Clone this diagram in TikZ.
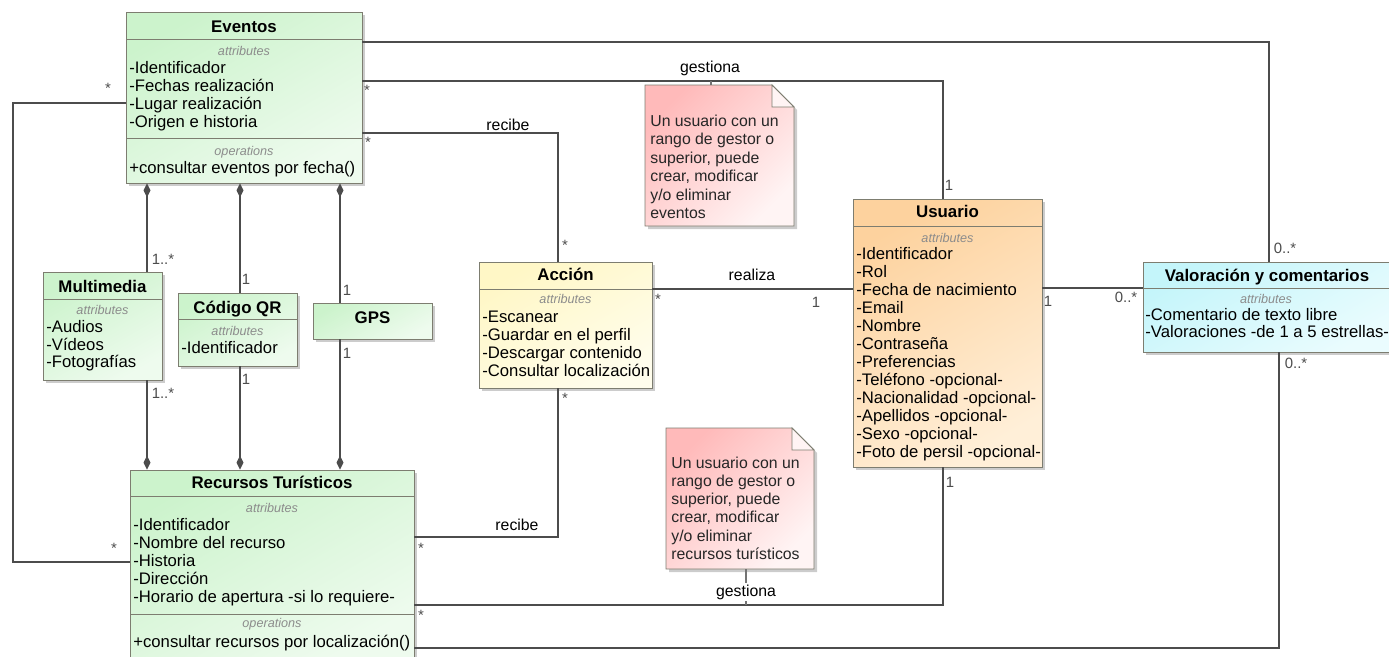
\documentclass[tikz,border=0pt]{standalone}
\usepackage{fontspec}
\setmainfont{Liberation Sans}
\usetikzlibrary{arrows.meta,shadows,fit}
\definecolor{clsgreen}{RGB}{204,243,204}
\definecolor{clsgreenlight}{RGB}{238,251,238}
\definecolor{clsorange}{RGB}{253,210,158}
\definecolor{clsorangelight}{RGB}{255,239,216}
\definecolor{clsyellow}{RGB}{255,247,198}
\definecolor{clsyellowlight}{RGB}{255,253,236}
\definecolor{clscyan}{RGB}{196,245,250}
\definecolor{clscyanlight}{RGB}{234,252,254}
\definecolor{notepink}{RGB}{255,186,186}
\definecolor{notelight}{RGB}{255,244,244}
\definecolor{boxline}{RGB}{125,125,112}
\tikzset{
  umlbox/.style={draw=boxline, line width=0.5pt, inner sep=0pt,
    drop shadow={shadow xshift=0.06cm, shadow yshift=-0.06cm, fill=black!40, opacity=0.5}},
  greenbox/.style={top color=clsgreen, bottom color=clsgreenlight, shading angle=30},
  orangebox/.style={top color=clsorange, bottom color=clsorangelight, shading angle=30},
  yellowbox/.style={top color=clsyellow, bottom color=clsyellowlight, shading angle=30},
  cyanbox/.style={top color=clscyan, bottom color=clscyanlight, shading angle=30},
  notebox/.style={draw=boxline, line width=0.5pt, top color=notepink, bottom color=notelight, shading angle=45,
    drop shadow={shadow xshift=0.06cm, shadow yshift=-0.06cm, fill=black!40, opacity=0.5}},
  umlsep/.style={draw=boxline, line width=0.5pt},
  umltitle/.style={anchor=base, inner sep=0pt, font=\fontsize{9.6}{11}\selectfont\bfseries},
  umlstereo/.style={anchor=base, inner sep=0pt, text=black!45, font=\fontsize{7.2}{8}\selectfont\itshape},
  umlattr/.style={anchor=base west, inner sep=0pt, font=\fontsize{9.5}{11}\selectfont},
  notetext/.style={anchor=base west, inner sep=0pt, text=black!85, font=\fontsize{9}{10}\selectfont},
  mult/.style={inner sep=0pt, text=black!70, font=\fontsize{8.5}{10}\selectfont},
  assoclabel/.style={inner sep=1pt, font=\fontsize{9}{10}\selectfont},
  assoc/.style={draw=black!70, line width=0.6pt},
  compos/.style={assoc, {Diamond[length=2.8mm,width=1.4mm]}-}
}
\begin{document}
\begin{tikzpicture}[x=0.02cm,y=-0.02cm]
\useasboundingbox (0,0) rectangle (1389,656);
% Eventos
\node[umlbox, greenbox, fit={(126,12) (362,183)}] (eventos) {};
\draw[umlsep] (126,39) -- (362,39);
\draw[umlsep] (126,138) -- (362,138);
\node[umltitle] (eventos-t) at (244,32) {Eventos};
\node[umlstereo] (eventos-s) at (244,55) {attributes};
\foreach \t [count=\i] in {-Identificador,-Fechas realización,-Lugar realización,-Origen e historia}
  \node[umlattr] (eventos-a\i) at (129,{73+18*(\i-1)}) {\t};
\node[umlstereo] (eventos-o) at (244,155) {operations};
\node[umlattr] (eventos-op) at (129,173) {+consultar eventos por fecha()};
%
% Multimedia
\node[umlbox, greenbox, fit={(43,272) (162,380)}] (multimedia) {};
\draw[umlsep] (43,299) -- (162,299);
\node[umltitle] (multimedia-t) at (102.5,292) {Multimedia};
\node[umlstereo] (multimedia-s) at (102.5,314) {attributes};
\foreach \t [count=\i] in {-Audios,-Vídeos,-Fotografías}
  \node[umlattr] (multimedia-a\i) at (46,{332.5+17.5*(\i-1)}) {\t};
%
% Codigo QR
\node[umlbox, greenbox, fit={(178,293) (297,366)}] (codigoqr) {};
\draw[umlsep] (178,319) -- (297,319);
\node[umltitle] (codigoqr-t) at (237.5,313) {Código QR};
\node[umlstereo] (codigoqr-s) at (237.5,335) {attributes};
\node[umlattr] (codigoqr-a1) at (181,353) {-Identificador};
%
% GPS
\node[umlbox, greenbox, fit={(313,303) (432,339)}] (gps) {};
\node[umltitle] (gps-t) at (372.5,323) {GPS};
%
% Recursos Turisticos
\node[umlbox, greenbox, fit={(130,470) (414,658)}] (recursos) {};
\draw[umlsep] (130,496) -- (414,496);
\draw[umlsep] (130,614) -- (414,614);
\node[umltitle] (recursos-t) at (272,488) {Recursos Turísticos};
\node[umlstereo] (recursos-s) at (272,512) {attributes};
\foreach \t [count=\i] in {-Identificador,-Nombre del recurso,-Historia,-Dirección,-Horario de apertura -si lo requiere-}
  \node[umlattr] (recursos-a\i) at (133,{530+18*(\i-1)}) {\t};
\node[umlstereo] (recursos-o) at (272,627) {operations};
\node[umlattr] (recursos-op) at (133,647) {+consultar recursos por localización()};
%
% Accion
\node[umlbox, yellowbox, fit={(479,262) (652,388)}] (accion) {};
\draw[umlsep] (479,289) -- (652,289);
\node[umltitle] (accion-t) at (565.5,280) {Acción};
\node[umlstereo] (accion-s) at (565.5,303) {attributes};
\foreach \t [count=\i] in {-Escanear,-Guardar en el perfil,-Descargar contenido,-Consultar localización}
  \node[umlattr] (accion-a\i) at (482,{322+18*(\i-1)}) {\t};
%
% Usuario
\node[umlbox, orangebox, fit={(853,199) (1042,467)}] (usuario) {};
\draw[umlsep] (853,226) -- (1042,226);
\node[umltitle] (usuario-t) at (947.5,217) {Usuario};
\node[umlstereo] (usuario-s) at (947.5,242) {attributes};
\foreach \t [count=\i] in {-Identificador,-Rol,-Fecha de nacimiento,-Email,-Nombre,-Contraseña,-Preferencias,
    -Teléfono -opcional-,-Nacionalidad -opcional-,-Apellidos -opcional-,-Sexo -opcional-,-Foto de persil -opcional-}
  \node[umlattr] (usuario-a\i) at (856,{259+18*(\i-1)}) {\t};
%
% Valoracion y comentarios
\node[umlbox, cyanbox, fit={(1143,262) (1395,352)}] (valoracion) {};
\draw[umlsep] (1143,288) -- (1395,288);
\node[umltitle] (valoracion-t) at (1267,281) {Valoración y comentarios};
\node[umlstereo] (valoracion-s) at (1266,303) {attributes};
\node[umlattr] (valoracion-a1) at (1145,320) {-Comentario de texto libre};
\node[umlattr] (valoracion-a2) at (1145,337) {-Valoraciones -de 1 a 5 estrellas-};
%
% notes
\path[notebox] (645,85) -- (772,85) -- (794,107) -- (794,226) -- (645,226) -- cycle;
\filldraw[umlsep, fill=notelight] (772,85) -- (772,107) -- (794,107) -- cycle;
\node[fit={(645,85) (794,226)}, inner sep=0pt] (note1) {};
\foreach \t [count=\i] in {Un usuario con un,rango de gestor o,{superior, puede},{crear, modificar},y/o eliminar,eventos}
  \node[notetext] (note1-l\i) at (650,{126+18.5*(\i-1)}) {\t};
%
\path[notebox] (666,428) -- (792,428) -- (814,450) -- (814,569) -- (666,569) -- cycle;
\filldraw[umlsep, fill=notelight] (792,428) -- (792,450) -- (814,450) -- cycle;
\node[fit={(666,428) (814,569)}, inner sep=0pt] (note2) {};
\foreach \t [count=\i] in {Un usuario con un,rango de gestor o,{superior, puede},{crear, modificar},y/o eliminar,recursos turísticos}
  \node[notetext] (note2-l\i) at (671,{468+18.3*(\i-1)}) {\t};
%
% associations
\draw[assoc] (eventos.east |- 0,42) -| (valoracion.north);
\draw[assoc] (eventos.east |- 0,81) -| (usuario.north -| 943,0);
\draw[assoc] (eventos.east |- 0,133) -| (accion.north -| 558,0);
\draw[assoc] (accion.east |- 0,289) -- (usuario.west |- 0,289);
\draw[assoc] (usuario.east |- 0,288) -- (valoracion.west |- 0,288);
\draw[assoc] (accion.south -| 558,0) |- (recursos.east |- 0,537);
\draw[assoc] (usuario.south -| 943,0) |- (recursos.east |- 0,605);
\draw[assoc] (valoracion.south -| 1279,0) |- (recursos.east |- 0,648);
\draw[assoc] (eventos.west |- 0,103) -| (13,333) |- (recursos.west |- 0,562);
%
\draw[compos] (eventos.south -| 147,0) -- (multimedia.north -| 147,0);
\draw[compos] (eventos.south -| 240,0) -- (codigoqr.north -| 240,0);
\draw[compos] (eventos.south -| 340,0) -- (gps.north -| 340,0);
\draw[compos] (recursos.north -| 147,0) -- (multimedia.south -| 147,0);
\draw[compos] (recursos.north -| 240,0) -- (codigoqr.south -| 240,0);
\draw[compos] (recursos.north -| 340,0) -- (gps.south -| 340,0);
%
% note anchors
\coordinate (gest1) at (711,81);
\draw[assoc, draw=black!55] (note1.north -| gest1) -- (gest1);
\coordinate (gest2) at (746,605);
\draw[assoc, draw=black!55] (note2.south -| gest2) -- (gest2)
  node[assoclabel, fill=white, pos=0.64] (lbl-gestiona2) {gestiona};
%
% labels
\node[assoclabel] (lbl-gestiona1) at (710,68) {gestiona};
\node[assoclabel] (lbl-recibe1) at (508,125) {recibe};
\node[assoclabel] (lbl-realiza) at (752,275) {realiza};
\node[assoclabel] (lbl-recibe2) at (517,525) {recibe};
%
% multiplicities
\node[mult] (m1) at (108,88) {*};
\node[mult] (m2) at (367,90) {*};
\node[mult] (m3) at (368,142) {*};
\node[mult] (m4) at (163,259) {1..*};
\node[mult] (m5) at (246,279) {1};
\node[mult] (m6) at (347,290) {1};
\node[mult] (m7) at (347,353) {1};
\node[mult] (m8) at (246,379) {1};
\node[mult] (m9) at (163,393) {1..*};
\node[mult] (m10) at (114,548) {*};
\node[mult] (m11) at (421,548) {*};
\node[mult] (m12) at (421,615) {*};
\node[mult] (m13) at (565,245) {*};
\node[mult] (m14) at (658,299) {*};
\node[mult] (m15) at (816,302) {1};
\node[mult] (m16) at (565,398) {*};
\node[mult] (m17) at (949,185) {1};
\node[mult] (m18) at (950,482) {1};
\node[mult] (m19) at (1048,301) {1};
\node[mult] (m20) at (1126,297) {0..*};
\node[mult] (m21) at (1285,248) {0..*};
\node[mult] (m22) at (1296,363) {0..*};
\end{tikzpicture}
\end{document}
